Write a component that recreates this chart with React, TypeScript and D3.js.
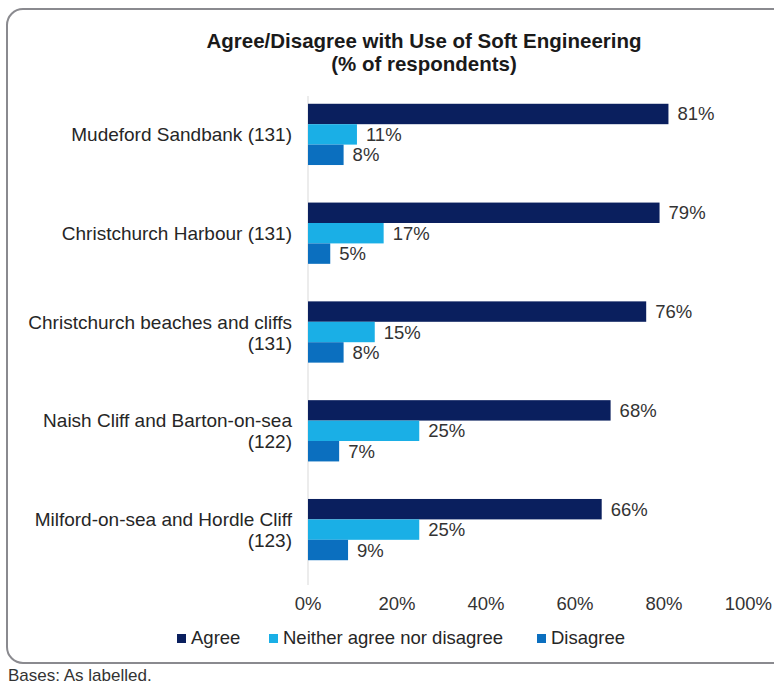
import React from "react";
import * as d3 from "d3";

const categories = [
  ["Mudeford Sandbank (131)"],
  ["Christchurch Harbour (131)"],
  ["Christchurch beaches and cliffs", "(131)"],
  ["Naish Cliff and Barton-on-sea", "(122)"],
  ["Milford-on-sea and Hordle Cliff", "(123)"],
];
const seriesNames = ["Agree", "Neither agree nor disagree", "Disagree"];
const agree = [81, 79, 76, 68, 66];
const neither = [11, 17, 15, 25, 25];
const disagree = [8, 5, 8, 7, 9];
const ticks = [0, 20, 40, 60, 80, 100];
const colors = ["#0a1f5e", "#1aafe6", "#0b6fbf"];

export default function App() {
  const W = 774, H = 685;
  const font = "Liberation Sans, Arial, sans-serif";
  const fs = 18.5;
  const series = [agree, neither, disagree];
  const x = d3.scaleLinear().domain([0, 100]).range([308, 753]);
  const y = d3.scaleBand<number>().domain(d3.range(categories.length)).range([85, 579]).paddingInner(0.38).paddingOuter(0.19);
  const yi = d3.scaleBand<number>().domain([0, 1, 2]).range([0, y.bandwidth()]);
  const legendX = [177, 269, 537];
  return (
    <svg width={W} height={H} style={{ position: "absolute", left: 0, top: 0, background: "#fff" }} fontFamily={font}>
      <rect x={7} y={9} width={800} height={654} rx={16} ry={16} fill="#fff" stroke="#8a8a8f" strokeWidth={2} />
      <text x={424} y={48} textAnchor="middle" fontSize={20.5} fontWeight="bold" fill="#1a1a1a">Agree/Disagree with Use of Soft Engineering</text>
      <text x={424} y={71} textAnchor="middle" fontSize={20.5} fontWeight="bold" fill="#1a1a1a">(% of respondents)</text>
      <line x1={x(0)} x2={x(0)} y1={96} y2={585} stroke="#d9d9d9" strokeWidth={1} />
      {categories.map((lines, i) => {
        const cy = (y(i) as number) + y.bandwidth() / 2;
        const n = lines.length;
        return (
          <g key={i}>
            {lines.map((l, j) => (
              <text key={j} x={292} y={cy + (j - (n - 1) / 2) * 21 + 7} textAnchor="end" fontSize={19} fill="#262626">{l}</text>
            ))}
            {series.map((s, k) => {
              const by = (y(i) as number) + (yi(k) as number);
              return (
                <g key={k}>
                  <rect x={x(0)} y={by} width={x(s[i]) - x(0)} height={yi.bandwidth()} fill={colors[k]} />
                  <text x={x(s[i]) + 9} y={by + yi.bandwidth() / 2 + 6.5} fontSize={fs} fill="#333">{s[i]}%</text>
                </g>
              );
            })}
          </g>
        );
      })}
      {ticks.map((t) => {
        const last = t === 100;
        return (
          <text key={t} x={last ? 772 : x(t)} y={610} textAnchor={last ? "end" : "middle"} fontSize={fs} fill="#333">{t}%</text>
        );
      })}
      {seriesNames.map((s, k) => (
        <g key={s}>
          <rect x={legendX[k]} y={634} width={9} height={9} fill={colors[k]} />
          <text x={legendX[k] + 14} y={644} fontSize={fs} fill="#262626">{s}</text>
        </g>
      ))}
      <text x={8} y={681} fontSize={17} fill="#333">Bases: As labelled.</text>
    </svg>
  );
}
